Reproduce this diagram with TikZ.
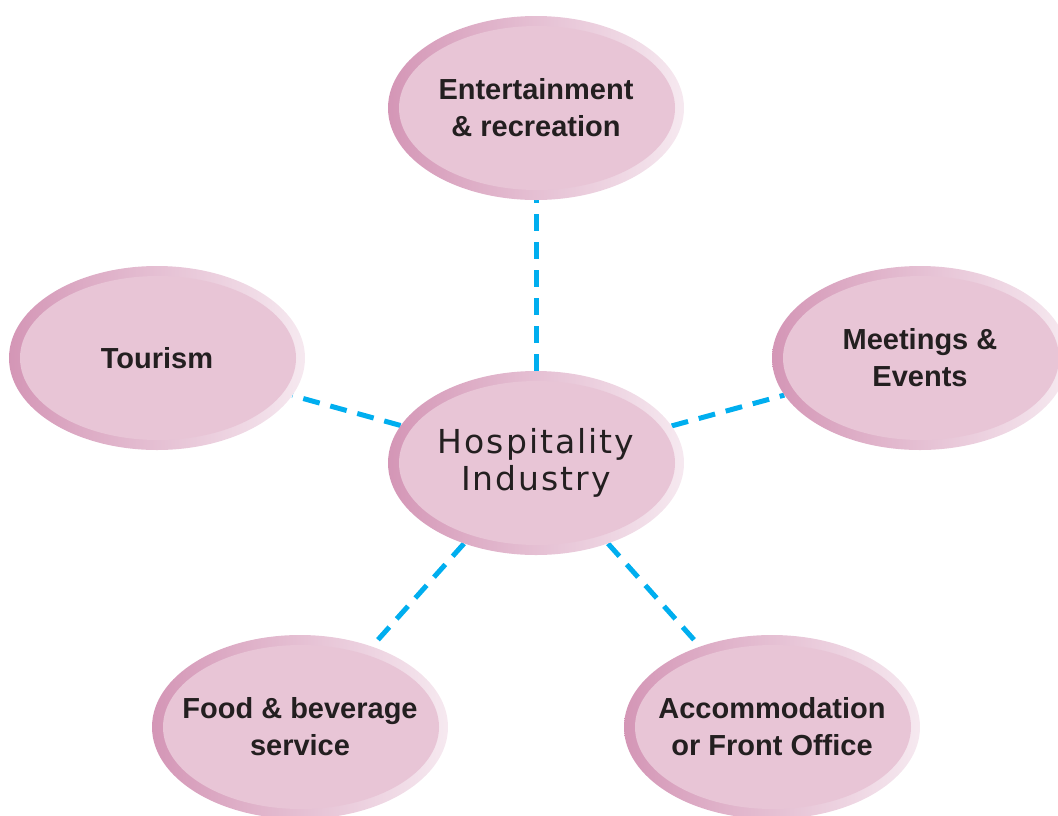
\documentclass[tikz,border=0pt]{standalone}
\usepackage{fontspec}
\setmainfont{Liberation Sans}
\newfontfamily\hubfont[LetterSpace=6]{DejaVu Sans}
\usetikzlibrary{shapes.geometric,backgrounds}
\definecolor{pinkdark}{HTML}{D496B6}
\definecolor{pinklight}{HTML}{F6E9F0}
\definecolor{pinkfill}{HTML}{E8C5D6}
\definecolor{linkblue}{HTML}{00AEEF}
\definecolor{labeltext}{HTML}{231F20}

\begin{document}
\begin{tikzpicture}[x=1pt,y=-1pt,
  bubble/.style={ellipse, minimum width=296pt, minimum height=184pt, inner sep=0pt,
    left color=pinkdark, right color=pinklight,
    path picture={\fill[pinkfill] ([xshift=1pt]path picture bounding box.center) ellipse (138pt and 82pt);}},
  topic/.style={align=center, text=labeltext, inner sep=0pt, font=\fontsize{29}{37}\selectfont\bfseries},
  hubtext/.style={topic, font=\hubfont\fontsize{33}{37}\selectfont},
  link/.style={draw=linkblue, line width=5pt, dash pattern=on 17pt off 11pt}]
\useasboundingbox (0,0) rectangle (1058,815);

% outer topics
\node[bubble, label={[topic]center:Entertainment\\\& recreation}] (ent) at (536,108) {};
\node[bubble, label={[topic]center:Tourism}] (tour) at (157,358) {};
\node[bubble, label={[topic]center:Meetings \&\\Events}] (meet) at (920,358) {};
\node[bubble, label={[topic]center:Food \& beverage\\service}] (food) at (300,727) {};
\node[bubble, label={[topic]center:Accommodation\\or Front Office}] (acc) at (772,727) {};

% centre
\node[bubble, label={[hubtext]center:Hospitality\\Industry}] (hub) at (536,463) {};

\begin{scope}[on background layer]
\draw[link] (hub) -- (ent);
\draw[link] (hub) -- (tour);
\draw[link] (hub) -- (meet);
\draw[link] (hub) -- (food);
\draw[link] (hub) -- (acc);
\end{scope}
\end{tikzpicture}
\end{document}
